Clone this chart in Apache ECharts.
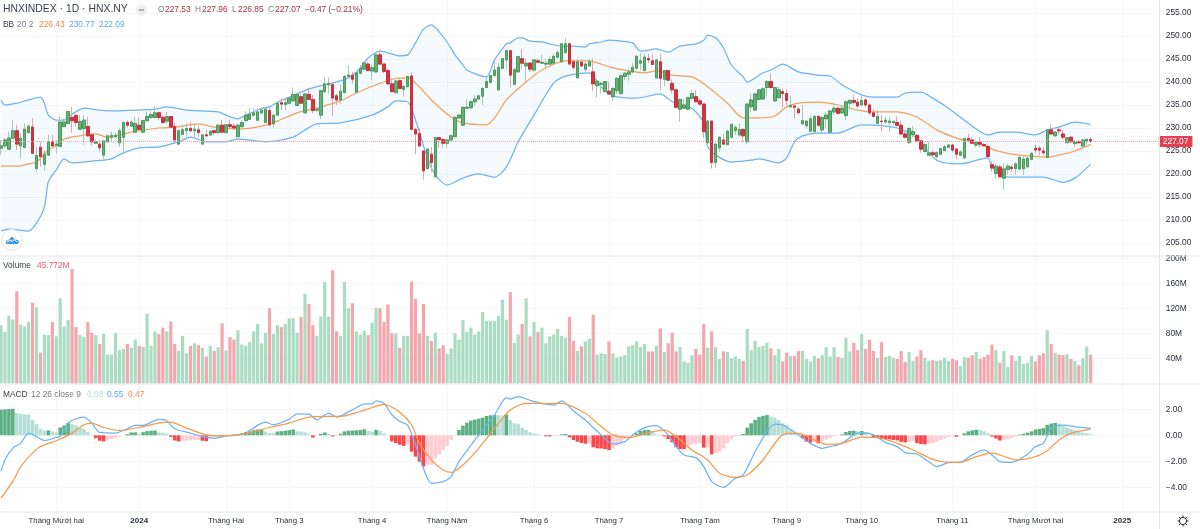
<!DOCTYPE html>
<html>
<head>
<meta charset="utf-8">
<title>HNXINDEX</title>
<style>
html,body{margin:0;padding:0;background:#fff}
#main{width:1200px;height:529px}
</style>
<script src="https://cdn.jsdelivr.net/npm/echarts@6/dist/echarts.min.js"></script>
</head>
<body>
<div id="main"></div>
<script>
// month ticks on the time scale (bar index -> label)
var tickIndex = [14, 35, 57, 73, 94, 113, 135, 154, 177, 199, 218, 241, 262, 284];
var tickLabel = ['Tháng Mười hai', '2024', 'Tháng Hai', 'Tháng 3', 'Tháng 4', 'Tháng Năm', 'Tháng 6', 'Tháng 7', 'Tháng Tám', 'Tháng 9', 'Tháng 10', 'Tháng 11', 'Tháng Mười hai', '2025'];
var slotCount = 294; // 277 bars + empty space on the right

var priceTicks = [205, 210, 215, 220, 225, 230, 235, 240, 245, 250, 255];
var volumeTicks = [40, 80, 120, 160, 200];
var macdTicks = [-4, -2, 0, 2];
var lastClose = 227.07;

// open, close, low, high
var candles = [
[225.6,226.1,224.1,227.4],[226.1,227.4,225.6,227.8],[225.4,227.8,225.2,229.2],[227.8,229.4,227.8,231.7],[229.4,226.5,225.2,230.7],
[226.1,227.8,223.4,228.8],[225.8,229.7,225.6,231.0],[229.0,230.4,228.8,230.7],[230.2,224.5,224.4,232.1],[221.2,224.0,220.2,225.9],
[225.8,223.8,221.6,227.0],[222.1,224.3,220.7,225.2],[224.1,227.0,223.9,228.5],[227.0,226.1,226.0,228.5],[226.2,226.5,224.4,227.4],
[226.0,231.3,226.0,232.5],[230.3,231.3,230.2,232.1],[231.0,233.6,231.0,233.6],[232.3,231.6,229.0,234.6],[232.7,231.2,230.3,233.2],
[229.7,231.4,229.6,232.8],[229.9,231.7,226.3,232.8],[230.3,228.3,228.1,232.5],[228.5,227.0,226.2,228.8],[226.7,227.0,226.5,227.5],
[226.5,225.7,224.9,227.4],[224.1,227.2,223.2,227.2],[227.0,228.3,226.8,228.5],[228.0,228.4,227.0,229.2],[228.1,228.4,227.8,229.0],
[226.8,229.4,225.9,229.9],[228.0,231.2,224.5,231.4],[231.2,230.6,230.3,231.7],[230.4,231.3,230.2,231.7],[229.1,231.0,229.0,232.5],
[230.6,229.7,229.4,232.3],[229.1,231.6,228.8,231.7],[231.6,232.5,231.4,233.6],[232.3,232.9,232.1,233.6],[232.3,233.3,232.1,234.8],
[233.3,232.3,231.7,233.6],[232.3,231.2,230.9,232.8],[231.5,232.5,230.9,233.6],[232.5,230.2,230.2,232.6],[230.3,227.4,227.0,231.2],
[226.5,229.4,226.3,229.6],[228.6,229.6,228.5,230.7],[229.4,229.9,228.1,231.0],[229.9,229.4,229.1,231.4],[229.4,229.7,228.1,230.7],
[229.6,229.0,228.1,230.4],[226.5,228.5,226.4,228.5],[228.5,228.3,228.0,229.6],[228.5,229.3,228.3,229.4],[229.4,229.0,228.6,229.7],
[229.0,230.6,228.8,230.9],[230.6,229.1,228.8,231.7],[229.0,230.7,228.8,230.8],[230.7,230.3,229.9,231.9],[230.4,230.0,229.6,231.0],
[228.1,230.6,228.0,230.8],[230.3,231.2,229.9,231.7],[231.6,232.8,231.4,233.6],[231.9,233.0,231.7,234.3],[232.8,233.3,232.5,234.3],
[231.7,233.5,231.6,234.3],[233.3,233.9,233.0,234.5],[231.2,234.1,231.0,234.6],[233.8,230.7,230.4,234.6],[230.9,232.8,230.2,232.8],
[232.8,235.4,232.6,235.5],[235.5,235.2,233.9,236.5],[235.1,235.5,233.9,236.5],[235.4,236.5,235.2,236.5],[235.9,237.3,235.7,238.8],
[234.9,237.3,234.8,237.5],[236.8,235.4,235.2,237.5],[233.3,237.4,233.2,237.5],[237.3,236.2,236.1,238.8],[236.2,233.8,233.2,237.2],
[233.9,234.1,233.5,234.5],[232.8,238.1,231.9,238.3],[237.9,239.6,237.7,241.0],[239.4,239.7,237.5,241.0],[239.4,236.5,232.6,240.1],
[237.0,236.1,235.0,237.5],[236.1,238.0,235.2,239.4],[237.7,241.2,237.5,241.5],[241.2,241.5,241.0,243.7],[241.5,240.6,239.7,242.2],
[237.8,242.0,237.5,242.3],[241.9,243.0,241.7,243.7],[242.8,244.1,242.6,244.4],[243.9,242.5,242.3,244.4],[242.4,243.1,240.4,243.7],
[242.2,245.9,242.0,246.2],[245.9,243.9,243.7,247.0],[243.9,242.3,241.9,244.1],[242.5,239.6,239.4,243.0],[239.6,237.9,237.7,240.8],
[237.7,240.2,237.5,240.4],[240.3,238.6,238.4,240.6],[238.4,239.0,236.8,239.3],[239.0,241.2,238.8,241.3],[241.3,229.7,229.6,242.1],
[229.7,228.7,224.3,229.9],[228.8,226.1,225.8,229.9],[225.0,220.7,218.8,225.0],[221.2,225.4,220.9,225.6],[224.3,222.5,220.5,225.9],
[219.4,227.9,219.3,228.0],[227.9,227.5,225.6,228.0],[227.5,226.7,225.6,227.7],[226.7,227.4,225.6,227.5],[227.4,228.3,227.2,228.5],
[228.1,232.3,228.0,232.6],[232.2,232.8,232.0,233.0],[230.6,234.5,230.4,234.6],[234.3,234.5,234.2,236.2],[234.4,235.7,234.2,236.1],
[235.7,236.3,234.8,237.2],[236.3,237.0,236.2,237.2],[236.9,238.6,235.0,238.8],[238.8,240.1,238.6,241.2],[239.9,241.4,239.7,241.5],
[241.4,242.6,241.2,244.6],[238.3,243.2,238.1,244.1],[243.0,245.1,242.7,245.3],[244.8,246.8,242.7,247.0],[246.8,241.5,238.8,247.0],
[239.5,242.7,239.3,243.0],[242.2,245.5,242.2,245.6],[245.1,244.1,243.0,247.2],[243.5,244.1,239.9,245.1],[244.1,242.8,242.2,244.3],
[242.6,244.8,242.5,244.9],[244.6,244.3,244.1,245.1],[244.1,244.3,243.9,245.9],[243.9,244.1,243.0,245.1],[243.9,244.9,243.7,245.5],
[244.1,245.6,243.8,246.1],[245.4,246.4,245.1,247.0],[244.4,248.3,244.1,248.4],[246.4,248.3,246.2,249.5],[248.3,243.9,243.7,248.5],
[244.4,243.2,242.7,244.9],[240.9,244.4,240.8,245.1],[244.3,243.5,243.2,244.9],[242.8,243.9,242.2,244.6],[243.5,244.4,243.3,245.1],
[242.2,239.6,238.0,245.1],[239.2,240.2,236.7,240.6],[239.5,239.7,237.5,240.1],[237.9,240.1,237.8,240.2],[238.0,237.4,237.2,240.1],
[236.8,238.6,235.9,238.8],[238.1,240.8,237.4,240.9],[237.5,241.4,237.4,241.5],[241.2,241.9,240.4,242.2],[241.7,242.2,240.3,243.0],
[242.2,243.2,241.9,244.1],[243.0,245.6,242.7,245.9],[244.1,244.6,242.6,246.2],[242.5,245.4,242.2,246.2],[245.1,244.8,244.1,246.1],
[244.6,243.8,243.7,246.1],[240.9,244.8,240.8,244.9],[244.4,240.8,238.3,246.1],[240.6,242.5,239.1,242.6],[242.5,240.4,240.3,242.6],
[239.7,238.3,237.5,240.6],[238.3,234.5,234.3,238.6],[234.1,236.2,231.4,236.4],[234.3,235.0,234.1,236.4],[234.1,236.6,234.1,236.8],
[236.4,237.5,236.3,238.4],[236.8,235.7,235.6,238.3],[235.9,235.2,234.8,236.4],[235.2,229.2,227.8,235.4],[226.8,231.5,226.1,231.7],
[231.5,222.5,221.2,231.6],[222.5,226.5,221.4,226.7],[225.7,228.0,224.8,228.1],[227.4,226.5,226.3,228.8],[226.4,229.3,226.3,229.6],
[228.0,230.8,227.7,231.0],[229.4,230.1,228.5,230.6],[228.5,229.7,228.1,231.0],[229.7,228.3,227.0,229.9],[227.0,235.2,226.5,235.4],
[234.6,236.1,233.5,237.5],[233.9,237.4,233.7,237.5],[236.2,238.3,236.1,238.4],[236.3,238.5,236.1,238.8],[238.8,240.1,236.8,240.4],
[240.1,238.8,238.6,241.9],[235.9,238.8,235.7,239.0],[236.6,238.3,236.4,239.0],[237.9,237.5,234.4,238.6],[237.5,236.0,234.9,238.4],
[234.6,234.9,234.4,237.0],[234.8,234.5,232.1,234.8],[234.1,233.3,233.2,234.6],[230.9,231.6,230.7,235.0],[230.5,231.5,229.9,231.7],
[229.3,232.0,229.2,232.8],[229.2,232.5,228.7,232.8],[232.5,230.6,230.3,232.8],[229.6,232.3,229.0,232.5],[232.0,232.8,229.9,233.5],
[229.1,233.7,229.0,233.9],[233.5,234.3,232.8,235.5],[234.3,233.2,233.0,234.6],[233.3,234.3,233.0,235.0],[232.7,235.7,231.7,236.0],
[235.4,236.0,233.9,236.2],[236.0,235.6,235.1,237.2],[235.6,234.8,234.4,236.5],[235.0,236.0,234.9,237.3],[236.1,235.0,234.6,236.5],
[235.0,233.3,232.8,235.4],[233.3,232.5,232.3,234.1],[231.0,232.5,230.8,233.9],[231.5,231.4,229.3,232.8],[231.3,231.7,230.9,232.5],
[231.2,231.5,229.2,232.5],[231.2,231.4,230.7,231.7],[231.2,230.6,230.3,232.5],[230.6,228.7,228.5,231.6],[228.7,228.0,227.8,229.2],
[226.9,229.9,226.5,230.1],[228.6,229.2,228.0,230.5],[228.4,227.2,227.0,228.7],[227.2,225.4,224.6,227.4],[224.9,226.4,224.6,226.7],
[224.1,224.6,223.9,227.0],[224.6,224.2,223.8,225.2],[223.8,224.6,222.8,224.9],[224.3,225.5,224.1,225.8],[225.1,225.9,224.9,226.3],
[225.8,226.3,225.6,226.5],[226.3,225.2,224.7,226.5],[225.4,224.3,223.2,225.6],[224.1,224.8,223.9,225.1],[223.5,227.7,223.4,227.8],
[227.7,227.4,227.0,228.7],[227.4,226.7,226.5,228.0],[226.3,226.9,225.8,227.4],[226.9,226.5,225.8,228.0],[226.4,226.2,225.8,226.7],
[226.0,223.8,223.4,226.3],[222.0,221.3,220.5,222.7],[220.1,221.7,219.0,222.2],[221.5,219.4,219.3,222.0],[219.1,221.1,216.7,222.3],
[221.0,221.7,219.8,222.2],[221.5,221.2,220.5,222.0],[221.2,222.2,219.9,222.5],[221.1,223.6,220.9,224.1],[221.2,223.2,219.8,224.1],
[221.6,223.4,221.2,224.1],[223.2,224.5,223.0,224.6],[225.6,225.2,224.6,226.3],[225.6,225.2,224.1,226.1],[225.0,224.6,224.1,225.8],
[223.6,229.6,223.4,229.7],[229.6,228.7,228.5,230.8],[228.3,229.1,228.1,229.4],[229.6,229.4,228.7,230.1],[228.7,228.0,227.4,229.6],
[226.8,227.9,226.7,228.1],[228.0,227.0,226.7,228.1],[226.6,227.0,225.8,227.4],[227.0,226.8,226.5,227.4],[226.1,227.4,225.4,227.5],
[227.1,227.54,226.4,227.7],[227.53,227.07,226.85,227.96]
];

// volume in millions
var volumes = [
93,82,108,102,147,94,91,98,129,122,49,78,77,98,75,136,91,101,183,90,77,74,98,81,77,63,79,46,46,80,53,55,63,57,70,60,58,111,60,83,79,89,83,99,63,52,76,48,60,64,61,57,43,60,52,58,96,53,74,70,85,62,60,66,83,95,64,81,120,79,93,90,95,104,104,81,106,143,127,93,76,107,162,107,181,83,76,162,120,128,83,78,84,77,97,121,120,98,126,80,80,57,
76,76,163,135,80,127,76,68,81,56,61,47,56,80,70,101,82,89,78,83,114,100,100,100,108,134,102,146,65,78,95,136,75,98,82,89,64,75,78,87,76,73,106,68,52,59,67,71,110,46,48,47,67,48,41,43,45,59,61,67,58,63,51,51,60,88,50,64,81,51,58,35,33,45,55,46,95,57,83,58,39,51,50,40,43,39,36,87,53,68,58,60,65,56,45,55,35,49,44,44,52,
52,39,35,44,40,45,58,43,58,42,41,73,51,65,53,79,55,70,52,41,66,42,44,41,39,52,34,50,36,43,53,41,36,37,36,37,41,36,39,37,28,42,41,45,50,39,42,46,62,53,33,52,26,45,36,44,31,33,44,35,45,48,85,63,49,46,45,47,39,36,29,40,59,45.772
];

var macdHist = [
1.98,2.0,2.02,2.04,1.71,1.63,1.62,1.58,1.19,.86,.5,.35,.38,.3,.22,.6,.76,.94,.86,.76,.6,.5,.24,.04,-.22,-.42,-.47,-.35,-.29,-.22,-.09,-.01,.09,.22,.23,.12,.24,.32,.35,.37,.22,.19,.12,-.12,-.4,-.47,-.42,-.4,-.37,-.35,-.34,-.42,-.45,-.22,-.14,-.09,-.14,-.04,-.01,.04,.09,.14,.24,.3,.4,.45,.46,.3,.17,.16,.29,.32,.35,.4,.45,.3,.29,.22,.09,-.17,-.04,.12,.22,.12,-.09,-.04,.12,.3,.35,.37,.38,.4,.47,.35,.29,.42,.35,.14,-.01,-.47,-.6,-.73,
-.82,-.72,-1.26,-1.64,-2.03,-2.4,-2.3,-2.28,-1.77,-1.44,-1.13,-.82,-.36,-.02,.41,.74,.97,1.13,1.21,1.28,1.36,1.49,1.54,1.56,1.54,1.53,1.62,1.18,.92,.85,.59,.41,.23,.15,.08,.02,-.08,-.09,-.05,-.04,.07,.1,-.15,-.36,-.49,-.59,-.64,-.63,-.92,-1.0,-1.01,-1.05,-1.13,-1.0,-.8,-.54,-.31,-.15,-.05,.15,.33,.41,.42,.33,.08,-.02,-.08,-.28,-.54,-.92,-1.05,-1.06,-.8,-.7,-.67,-.6,-.95,-.9,-1.46,-1.38,-1.26,-1.0,-.62,-.28,-.1,.03,.1,.59,.92,1.18,1.41,1.49,1.56,1.44,1.36,1.18,.92,.79,.49,.28,.08,
-.23,-.49,-.56,-.54,-.62,-.45,-.33,-.2,-.1,-.02,.07,.25,.33,.35,.3,.33,.25,.05,-.18,-.2,-.23,-.28,-.3,-.36,-.4,-.5,-.55,-.5,-.45,-.6,-.68,-.7,-.65,-.6,-.5,-.35,-.25,-.15,-.08,-.12,-.02,.15,.3,.38,.42,.4,.3,.15,-.1,-.25,-.4,-.35,-.3,-.2,-.1,.05,.12,.2,.3,.45,.5,.55,.8,.9,.95,.9,.75,.6,.5,.4,.25,.2,.15,.08
];

// lines read at their visible bends: [bar index, value]
var bbUpper = [[0,236.1],[1,235.0],[4,235.4],[7,236.1],[10,236.7],[11,235.4],[12,232.8],[14,231.7],[16,231.7],[17,232.4],[21,234.3],[25,233.9],[29,233.7],[35,233.9],[39,234.1],[42,234.6],[47,233.9],[55,233.5],[57,232.8],[60,232.0],[62,232.8],[66,234.3],[68,234.6],[70,235.6],[73,236.7],[78,238.5],[82,239.4],[84,239.8],[88,240.9],[91,243.0],[93,245.2],[96,246.7],[99,246.1],[101,245.7],[103,245.9],[105,248.5],[107,251.5],[109,252.4],[111,250.9],[113,248.7],[115,245.9],[117,243.7],[118,242.6],[121,241.5],[123,241.1],[125,244.8],[128,248.3],[129,248.5],[131,249.6],[132,249.6],[134,248.9],[137,248.7],[139,248.3],[142,247.8],[145,247.8],[148,247.6],[149,248.3],[152,248.7],[154,249.1],[157,248.9],[160,248.5],[162,246.7],[166,247.2],[169,246.5],[172,247.8],[176,248.3],[178,249.1],[179,250.2],[181,249.6],[183,247.4],[185,243.7],[188,241.1],[189,240.0],[193,242.0],[195,242.6],[198,243.9],[202,242.2],[207,241.5],[210,241.3],[213,239.4],[218,237.2],[221,236.7],[227,236.7],[229,237.6],[233,237.8],[236,236.5],[240,234.3],[244,231.7],[247,229.8],[250,228.5],[253,229.1],[257,229.1],[262,228.5],[265,229.6],[268,230.2],[272,231.3],[276,230.77]];
var bbMiddle = [[0,221.7],[4,221.7],[7,222.2],[9,222.6],[12,225.2],[14,226.1],[16,227.6],[20,228.3],[24,228.7],[27,228.0],[33,229.1],[40,230.0],[44,230.2],[50,230.9],[54,230.2],[61,229.8],[66,230.4],[70,231.5],[75,233.3],[81,234.6],[86,235.9],[90,237.6],[95,239.4],[99,240.6],[103,240.9],[106,238.9],[109,236.1],[114,232.4],[117,231.1],[123,230.7],[125,232.2],[128,236.1],[133,240.0],[137,242.6],[143,244.6],[149,244.6],[154,243.3],[159,242.4],[163,242.0],[166,242.4],[170,241.5],[175,241.1],[178,239.6],[184,235.4],[188,232.2],[192,232.2],[196,232.6],[199,234.6],[202,235.4],[207,235.6],[212,235.0],[217,233.9],[221,233.5],[227,233.5],[232,232.4],[237,229.6],[242,227.8],[247,226.7],[251,225.4],[256,224.3],[261,223.9],[265,223.7],[269,224.3],[272,225.0],[276,226.43]];
var bbLower = [[0,207.6],[2,208.0],[7,207.6],[9,209.3],[11,212.8],[12,218.3],[14,220.9],[16,223.3],[18,222.4],[23,222.8],[28,223.3],[31,224.6],[35,225.7],[40,225.9],[45,227.0],[48,228.0],[52,227.0],[57,227.0],[60,227.6],[67,227.0],[74,228.0],[80,230.9],[86,231.1],[94,232.8],[98,234.6],[100,235.9],[103,235.7],[105,231.7],[108,223.5],[110,219.8],[113,217.6],[117,219.1],[121,220.0],[125,219.3],[128,221.5],[131,227.0],[135,232.8],[140,239.8],[143,241.3],[149,242.0],[152,238.9],[155,237.0],[161,236.5],[167,237.4],[170,235.7],[175,234.3],[178,231.1],[179,225.9],[181,224.1],[185,222.6],[190,223.0],[192,223.3],[197,222.4],[199,223.5],[201,227.0],[203,228.3],[207,228.9],[212,228.9],[218,230.7],[227,230.0],[232,227.8],[237,223.0],[243,222.2],[250,223.5],[251,221.5],[255,219.3],[264,219.3],[269,218.2],[272,219.1],[276,222.09]];
var macdLine = [[0,-2.78],[1,-1.88],[3,-.99],[5,-.6],[7,.17],[9,-.09],[11,-.4],[14,-.17],[15,-.09],[17,.94],[19,1.27],[21,1.4],[23,.94],[25,.22],[29,.17],[32,.5],[34,.76],[36,.76],[40,1.22],[42,1.12],[44,.5],[48,.17],[51,-.09],[54,-.24],[57,-.04],[60,.04],[62,.17],[65,.76],[67,1.01],[69,.81],[73,1.24],[75,1.65],[78,1.63],[80,1.19],[83,1.71],[85,1.4],[89,1.96],[92,2.4],[94,2.42],[95,2.65],[97,2.47],[99,1.58],[101,1.06],[103,.79],[105,-.74],[107,-2.54],[109,-3.69],[112,-3.56],[114,-3.18],[116,-2.03],[121,.03],[125,1.56],[128,2.9],[129,2.79],[131,2.97],[134,2.69],[137,2.46],[140,2.33],[142,2.64],[145,1.87],[148,1.18],[152,.03],[155,-.67],[158,-.49],[160,.03],[163,.59],[166,.74],[169,.03],[171,-.87],[173,-1.51],[176,-1.72],[178,-2.41],[180,-3.56],[183,-4.0],[186,-3.31],[188,-3.05],[191,-1.26],[194,.28],[196,.85],[198,.79],[202,.03],[205,-.62],[208,-1.0],[210,-.87],[213,-.62],[216,.03],[218,.2],[221,.03],[224,-.54],[227,-.87],[229,-1.33],[232,-1.44],[235,-2.03],[237,-2.41],[240,-2.1],[243,-2.08],[246,-1.51],[249,-1.13],[251,-1.51],[253,-2.03],[256,-2.08],[260,-1.46],[262,-.87],[264,-.62],[266,.54],[269,.79],[273,.62],[276,.55]];
var macdSignal = [[0,-4.83],[3,-3.55],[5,-2.4],[8,-1.37],[10,-.86],[14,-.42],[18,.17],[21,.81],[23,.94],[26,.6],[30,.37],[35,.6],[41,.99],[43,1.01],[47,.55],[52,.04],[57,-.04],[62,.12],[68,.6],[73,.94],[78,1.4],[83,1.45],[86,1.45],[91,1.83],[97,2.35],[101,1.77],[104,.79],[106,-.62],[109,-1.9],[112,-2.67],[114,-2.85],[117,-2.28],[121,-1.0],[126,.92],[129,1.95],[133,2.46],[138,2.44],[142,2.46],[148,1.69],[152,.67],[155,.03],[159,-.18],[164,.21],[168,.41],[171,-.1],[175,-1.13],[179,-1.9],[182,-2.92],[186,-3.23],[189,-3.05],[193,-1.9],[197,-.23],[199,.15],[202,.15],[206,-.36],[209,-.69],[213,-.62],[218,-.15],[223,-.23],[227,-.62],[231,-1.13],[236,-1.85],[240,-2.08],[243,-2.08],[247,-1.64],[251,-1.38],[255,-1.72],[257,-1.9],[262,-1.64],[265,-1.18],[268,-.36],[271,.15],[276,.47]];

var upColor = '#66b076', upBorder = '#4a9a5c', upWick = '#a6cbad';
var downColor = '#d6323f', downBorder = '#c92f3e', downWick = '#e3a3ab';
var textColor = '#2a2e39', mutedColor = '#787b86';
var gridColor = '#eef0f5';
var blue = '#6db3f2', orange = '#f5a05a';

var categories = [];
for (var s = 0; s < slotCount; s++) {
    var at = tickIndex.indexOf(s);
    categories.push(at >= 0 ? tickLabel[at] : '');
}
function isTick(i) {
    return tickIndex.indexOf(i) >= 0;
}

function makeXAxis(gridIndex, showLabel) {
    return {
        type: 'category',
        gridIndex: gridIndex,
        data: categories,
        boundaryGap: false,
        axisLine: { show: false },
        axisTick: { show: false },
        axisPointer: { show: false },
        splitLine: { show: true, interval: isTick, lineStyle: { color: gridColor, type: 'dotted' } },
        axisLabel: {
            show: showLabel,
            interval: isTick,
            margin: 5,
            fontFamily: 'Liberation Sans',
            fontSize: 7.8,
            color: textColor,
            formatter: function(v) {
                return /^\d+$/.test(v) ? '{y|' + v + '}' : v;
            },
            rich: { y: { fontWeight: 'bold', fontFamily: 'Liberation Sans', fontSize: 8, color: textColor } }
        }
    };
}

function makeYAxis(gridIndex, min, max, ticks, fmt) {
    return {
        type: 'value',
        gridIndex: gridIndex,
        position: 'right',
        min: min,
        max: max,
        axisLine: { show: false },
        axisTick: { show: false, customValues: ticks },
        splitLine: { show: true, lineStyle: { color: gridColor, type: 'dotted' } },
        axisLabel: {
            customValues: ticks,
            margin: 8,
            fontFamily: 'Liberation Sans',
            fontSize: 8.4,
            color: textColor,
            formatter: fmt
        }
    };
}

function minus(v) {
    return String(v).replace('-', '\u2212');
}

var bodies = candles.map(function(c) {
    return [c[0], c[1], Math.min(c[0], c[1]), Math.max(c[0], c[1])];
});

var volumeData = volumes.map(function(v, i) {
    var up = candles[i][1] >= candles[i][0];
    return { value: v, itemStyle: { color: up ? '#a9dcc0' : '#f4a6ad' } };
});

var histData = macdHist.map(function(v, i) {
    var prev = i > 0 ? macdHist[i - 1] : v;
    var color;
    if (v >= 0) color = v >= prev ? '#5cb083' : '#b5dfd6';
    else color = v < prev ? '#f9474c' : '#fdcdd2';
    return { value: v, itemStyle: { color: color } };
});

function bandShape(params, api) {
    var pts = [];
    bbUpper.forEach(function(p) { pts.push(api.coord(p)); });
    bbLower.slice().reverse().forEach(function(p) { pts.push(api.coord(p)); });
    return { type: 'polygon', shape: { points: pts }, style: { fill: 'rgba(33,150,243,0.05)' }, silent: true };
}

function lineSeries(data, color, xi, yi, z) {
    return {
        type: 'line',
        data: data,
        xAxisIndex: xi,
        yAxisIndex: yi,
        showSymbol: false,
        smooth: 0.25,
        z: z,
        lineStyle: { color: color, width: 1.25 },
        silent: true
    };
}

// legend rows: text, x, y, colour, size
var legendRows = [
    ['HNXINDEX · 1D · HNX.NY', 3, 9, '#3b3f4a', 10.4],
    ['O', 158, 10, mutedColor, 8.4], ['227.53', 165, 10, '#a8323c', 8.4],
    ['H', 195, 10, mutedColor, 8.4], ['227.96', 202, 10, '#a8323c', 8.4],
    ['L', 232, 10, mutedColor, 8.4], ['226.85', 238, 10, '#a8323c', 8.4],
    ['C', 268, 10, mutedColor, 8.4], ['227.07', 275, 10, '#a8323c', 8.4],
    ['\u22120.47 (\u22120.21%)', 305, 10, '#a8323c', 8.4],
    ['BB', 3, 25, '#3b3f4a', 8.4], ['20 2', 17, 25, mutedColor, 8.4],
    ['226.43', 39, 25, '#f58a3c', 8.4], ['230.77', 69, 25, '#5ea8ee', 8.4], ['222.09', 99, 25, '#5ea8ee', 8.4],
    ['Volume', 3, 266, '#3b3f4a', 8.4], ['45.772M', 37, 266, '#ef5a6a', 8.4],
    ['MACD', 3, 395, '#3b3f4a', 8.4], ['12 26 close 9', 31, 395, mutedColor, 8.4],
    ['0.08', 87, 395, '#b5dfd6', 8.4], ['0.55', 107, 395, '#5ea8ee', 8.4], ['0.47', 128, 395, '#f58a3c', 8.4]
];

var graphics = legendRows.map(function(r) {
    return {
        type: 'text', x: r[1], y: r[2], silent: true, z: 20,
        style: { text: r[0], fill: r[3], fontSize: r[4], fontFamily: 'Liberation Sans', verticalAlign: 'middle' }
    };
});

function deco(type, shape, style, z) {
    return { type: type, silent: true, z: z || 20, shape: shape, style: style };
}
function rule(x1, y1, x2, y2, color) {
    return deco('line', { x1: x1, y1: y1, x2: x2, y2: y2 }, { stroke: color || '#e3e5ec', lineWidth: 1 }, 15);
}
graphics.push(rule(0, 256, 1200, 256), rule(0, 384, 1200, 384), rule(0, 512, 1200, 512), rule(1159.5, 0, 1159.5, 529));
// collapse button next to the title
graphics.push(deco('circle', { cx: 141.5, cy: 10, r: 5.5 }, { fill: '#eceef2' }));
graphics.push(deco('line', { x1: 139, y1: 10, x2: 144, y2: 10 }, { stroke: '#6a6d78', lineWidth: 1 }, 21));
// logo badge
graphics.push(deco('circle', { cx: 12, cy: 240, r: 10.5 }, { fill: '#fff', stroke: '#e6e8ee', lineWidth: 1 }));
graphics.push(deco('polygon', { points: [[6, 244], [6, 241], [8.5, 240], [12, 236.5], [15, 239.5], [18, 240], [19, 242], [18, 244]] }, { fill: '#3d9be9' }, 21));
graphics.push(deco('polyline', { points: [[7, 242.5], [10, 240], [12, 241.5], [14.5, 239.5], [17, 242]] }, { fill: 'none', stroke: '#fff', lineWidth: 1 }, 22));
// settings gear
graphics.push(deco('circle', { cx: 1183, cy: 521, r: 3.6 }, { fill: 'none', stroke: '#2a2e39', lineWidth: 1 }));
[[1183, 515.5, 1183, 517.4], [1183, 524.6, 1183, 526.5], [1177.5, 521, 1179.4, 521], [1186.6, 521, 1188.5, 521],
 [1179.1, 517.1, 1180.4, 518.4], [1185.6, 523.6, 1186.9, 524.9], [1186.9, 517.1, 1185.6, 518.4], [1180.4, 523.6, 1179.1, 524.9]].forEach(function(t) {
    graphics.push(deco('line', { x1: t[0], y1: t[1], x2: t[2], y2: t[3] }, { stroke: '#2a2e39', lineWidth: 1 }));
});

var option = {
    backgroundColor: '#fff',
    animation: false,
    tooltip: { show: false },
    grid: [
        { left: 1, width: 1156.8, top: 0, height: 256 },
        { left: 1, width: 1156.8, top: 256, height: 127.3 },
        { left: 1, width: 1156.8, top: 384, height: 128 }
    ],
    xAxis: [makeXAxis(0, false), makeXAxis(1, false), makeXAxis(2, true)],
    yAxis: [
        makeYAxis(0, 202.17, 257.83, priceTicks, function(v) { return v.toFixed(2); }),
        makeYAxis(1, 0, 203.7, volumeTicks, function(v) { return v + 'M'; }),
        makeYAxis(2, -5.9, 3.946, macdTicks, function(v) { return minus(v.toFixed(2)); })
    ],
    graphic: graphics,
    series: [
        { type: 'custom', xAxisIndex: 0, yAxisIndex: 0, data: [[0, 230]], renderItem: bandShape, z: 1, silent: true },
        lineSeries(bbUpper, blue, 0, 0, 2),
        lineSeries(bbLower, blue, 0, 0, 2),
        lineSeries(bbMiddle, orange, 0, 0, 2),
        {
            type: 'candlestick',
            name: 'wicks',
            data: candles,
            xAxisIndex: 0,
            yAxisIndex: 0,
            barWidth: 3,
            z: 3,
            silent: true,
            itemStyle: { color: upWick, color0: downWick, borderColor: upWick, borderColor0: downWick, borderWidth: 1 }
        },
        {
            type: 'candlestick',
            name: 'bodies',
            data: bodies,
            xAxisIndex: 0,
            yAxisIndex: 0,
            barWidth: 3,
            z: 4,
            silent: true,
            itemStyle: { color: upColor, color0: downColor, borderColor: upBorder, borderColor0: downBorder, borderWidth: 1 }
        },
        {
            // last price line and its tag on the scale
            type: 'line',
            xAxisIndex: 0,
            yAxisIndex: 0,
            data: [[0, lastClose], [slotCount - 1, lastClose]],
            showSymbol: false,
            z: 5,
            silent: true,
            lineStyle: { color: '#f2a0a9', type: 'dotted', width: 1 },
            endLabel: {
                show: true,
                distance: 1,
                formatter: lastClose.toFixed(2),
                color: '#fff',
                fontFamily: 'Liberation Sans',
                fontSize: 8.4,
                backgroundColor: '#e5404f',
                padding: [2, 4, 1, 4]
            }
        },
        { type: 'bar', xAxisIndex: 1, yAxisIndex: 1, data: volumeData, barWidth: 3.2, silent: true, z: 2 },
        { type: 'bar', xAxisIndex: 2, yAxisIndex: 2, data: histData, barWidth: 3.6, silent: true, z: 2 },
        lineSeries(macdLine, blue, 2, 2, 3),
        lineSeries(macdSignal, '#f59a4a', 2, 2, 3)
    ]
};

var myChart = echarts.init(document.getElementById('main'), null, { renderer: 'canvas' });
myChart.setOption(option);
</script>
</body>
</html>
